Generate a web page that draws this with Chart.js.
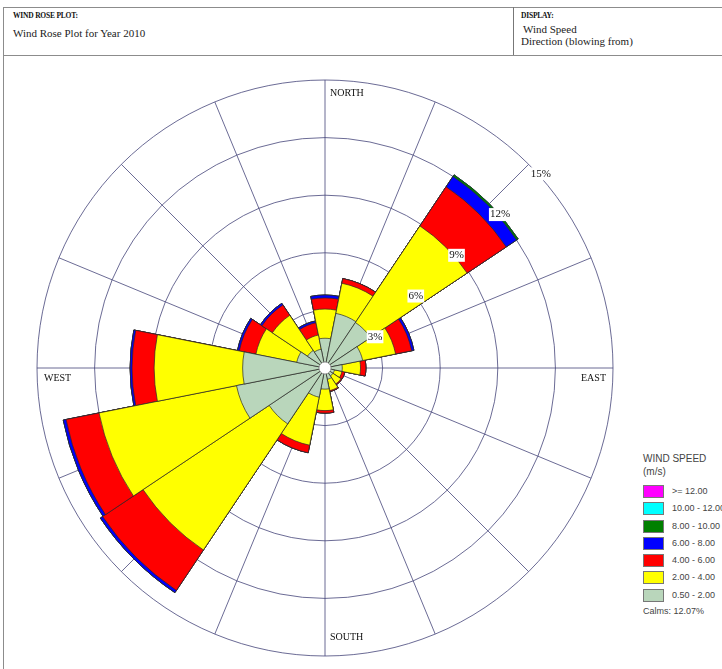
<!DOCTYPE html>
<html>
<head>
<meta charset="utf-8">
<script src="https://cdn.jsdelivr.net/npm/chart.js@4.4.1/dist/chart.umd.min.js"></script>
<style>
    html, body { margin: 0; padding: 0; background: #fff; }
    body { width: 722px; height: 669px; position: relative; overflow: hidden; font-family: "Liberation Serif", serif; }
    .line { position: absolute; background: #8c8c8c; }
    .hdr-small { position: absolute; font-size: 7.5px; font-weight: bold; color: #111; letter-spacing: -0.2px; }
    .hdr-text { position: absolute; font-size: 11px; color: #222; line-height: 12px; }
    #rose { position: absolute; left: 30px; top: 73px; }
    #legend { position: absolute; left: 643px; top: 452px; font-family: "Liberation Sans", Arial, sans-serif; color: #444; white-space: nowrap; }
    .lg-title { font-size: 10px; line-height: 13px; }
    .lg-item { position: relative; height: 17.3px; }
    .lg-box { position: absolute; left: 0; top: 1px; width: 21px; height: 13px; border: 1px solid #777; box-sizing: border-box; }
    .lg-label { position: absolute; left: 29px; top: 2px; font-size: 9px; line-height: 11px; }
    .calms { font-size: 9px; line-height: 11px; margin-top: 1px; }
</style>
</head>
<body>
    <div class="line" style="left:3px; top:7px; width:719px; height:1px;"></div>
    <div class="line" style="left:3px; top:55px; width:719px; height:1px;"></div>
    <div class="line" style="left:3px; top:7px; width:1px; height:662px;"></div>
    <div class="line" style="left:513px; top:7px; width:1px; height:48px; background:#777;"></div>

    <div class="hdr-small" style="left:13px; top:11px;">WIND ROSE PLOT:</div>
    <div class="hdr-text" style="left:13px; top:27px;">Wind Rose Plot for Year 2010</div>
    <div class="hdr-small" style="left:521px; top:11px;">DISPLAY:</div>
    <div class="hdr-text" style="left:523px; top:23px;">Wind Speed</div>
    <div class="hdr-text" style="left:521px; top:35px;">Direction (blowing from)</div>

    <canvas id="rose" width="590" height="590"></canvas>

    <div id="legend">
        <div class="lg-title">WIND SPEED</div>
        <div class="lg-title" style="margin-bottom:6px;">(m/s)</div>
        <div id="legend-items"></div>
        <div class="calms" id="calms"></div>
    </div>

<script>
// 16 compass sectors, clockwise from north
const directions = ['N', 'NNE', 'NE', 'ENE', 'E', 'ESE', 'SE', 'SSE', 'S', 'SSW', 'SW', 'WSW', 'W', 'WNW', 'NW', 'NNW'];

// frequency (%) of each speed class per sector
const freq05to2  = [1.55, 2.90, 2.85, 2.00, 0.90, 0.50, 0.50, 0.60, 1.10, 1.55, 3.50, 4.70, 4.29, 1.50, 1.10, 1.00];
const freq2to4   = [1.52, 1.60, 6.05, 1.75, 0.95, 0.40, 0.50, 0.60, 1.12, 2.55, 7.90, 7.30, 4.61, 2.17, 2.20, 0.75];
const freq4to6   = [0.58, 0.25, 2.45, 0.85, 0.28, 0.15, 0.05, 0.05, 0.13, 0.40, 2.53, 1.75, 1.15, 0.88, 0.65, 0.65];
const freq6to8   = [0.15, 0.00, 0.65, 0.12, 0.00, 0.00, 0.00, 0.00, 0.00, 0.00, 0.14, 0.15, 0.10, 0.10, 0.10, 0.10];
const freq8to10  = [0.00, 0.00, 0.10, 0.00, 0.00, 0.00, 0.00, 0.00, 0.00, 0.00, 0.00, 0.00, 0.00, 0.00, 0.00, 0.00];
const freq10to12 = [0, 0, 0, 0, 0, 0, 0, 0, 0, 0, 0, 0, 0, 0, 0, 0];
const freq12up   = [0, 0, 0, 0, 0, 0, 0, 0, 0, 0, 0, 0, 0, 0, 0, 0];

const speedLabels = ['0.50 - 2.00', '2.00 - 4.00', '4.00 - 6.00', '6.00 - 8.00', '8.00 - 10.00', '10.00 - 12.00', '>= 12.00'];
const ringTicks = [3, 6, 9, 12, 15];
const calmsPct = 12.07;

const speedColors = ['#b9d6bb', '#ffff00', '#ff0000', '#0000ff', '#008000', '#00ffff', '#ff00ff'];
const gridColor = '#45457a';

const bands = [freq05to2, freq2to4, freq4to6, freq6to8, freq8to10, freq10to12, freq12up];

// polar area has no stacking, so each class is drawn as the running total;
// dataset 0 (the slowest class) ends up painted on top
let running = directions.map(() => 0);
const datasets = bands.map((band, k) => {
    running = running.map((v, i) => v + band[i]);
    return {
        label: speedLabels[k],
        data: running.slice(),
        backgroundColor: speedColors[k],
        borderColor: '#2a2a2a',
        borderWidth: 0.7
    };
});

const roseDecor = {
    id: 'roseDecor',
    beforeDatasetsDraw(chart) {
        const r = chart.scales.r;
        const ctx = chart.ctx;
        ctx.save();
        ctx.strokeStyle = gridColor;
        ctx.lineWidth = 0.8;
        directions.forEach((d, i) => {
            // sector centre = boundary angle + half a sector
            const a = r.getIndexAngle(i) + Math.PI / directions.length - Math.PI / 2;
            ctx.beginPath();
            ctx.moveTo(r.xCenter, r.yCenter);
            ctx.lineTo(r.xCenter + Math.cos(a) * r.drawingArea, r.yCenter + Math.sin(a) * r.drawingArea);
            ctx.stroke();
        });
        ctx.restore();
    },
    afterDatasetsDraw(chart) {
        const r = chart.scales.r;
        const ctx = chart.ctx;
        const xc = r.xCenter, yc = r.yCenter, R = r.drawingArea;
        ctx.save();

        // calms circle
        ctx.beginPath();
        ctx.arc(xc, yc, 6, 0, Math.PI * 2);
        ctx.fillStyle = '#fff';
        ctx.fill();
        ctx.strokeStyle = '#888';
        ctx.lineWidth = 0.8;
        ctx.stroke();

        // ring labels along the NE diagonal
        ctx.font = '11px "Liberation Serif", serif';
        ctx.textAlign = 'left';
        ctx.textBaseline = 'top';
        ringTicks.forEach(v => {
            const d = r.getDistanceFromCenterForValue(v);
            const x = xc + d * Math.SQRT1_2 + 2;
            const y = yc - d * Math.SQRT1_2 + 4;
            const txt = v + '%';
            const w = ctx.measureText(txt).width;
            ctx.fillStyle = '#fff';
            ctx.fillRect(x - 1, y - 1, w + 2, 13);
            ctx.fillStyle = '#111';
            ctx.fillText(txt, x, y);
        });

        // compass names
        ctx.font = '10px "Liberation Serif", serif';
        ctx.fillStyle = '#111';
        ctx.fillText('NORTH', xc + 5, yc - R + 8);
        ctx.fillText('SOUTH', xc + 5, yc + R - 24);
        ctx.fillText('WEST', xc - R + 7, yc + 5);
        ctx.textAlign = 'right';
        ctx.fillText('EAST', xc + R - 7, yc + 5);
        ctx.restore();
    }
};

new Chart(document.getElementById('rose'), {
    type: 'polarArea',
    data: {
        labels: directions,
        datasets: datasets
    },
    options: {
        responsive: false,
        animation: false,
        layout: { padding: 7 },
        plugins: {
            legend: { display: false },
            tooltip: { enabled: false }
        },
        scales: {
            r: {
                min: 0,
                max: 15,
                startAngle: -180 / directions.length,
                ticks: { display: false, stepSize: 3 },
                grid: { circular: true, color: gridColor, lineWidth: 0.8 },
                angleLines: { display: false },
                pointLabels: { display: false }
            }
        }
    },
    plugins: [roseDecor]
});

// legend, fastest class on top
const legendItems = document.getElementById('legend-items');
for (let k = speedLabels.length - 1; k >= 0; k--) {
    const row = document.createElement('div');
    row.className = 'lg-item';
    row.innerHTML = `<div class="lg-box" style="background:${speedColors[k]}"></div>
        <div class="lg-label">${speedLabels[k].replace('>', '&gt;')}</div>`;
    legendItems.appendChild(row);
}
document.getElementById('calms').textContent = `Calms: ${calmsPct.toFixed(2)}%`;
</script>
</body>
</html>
